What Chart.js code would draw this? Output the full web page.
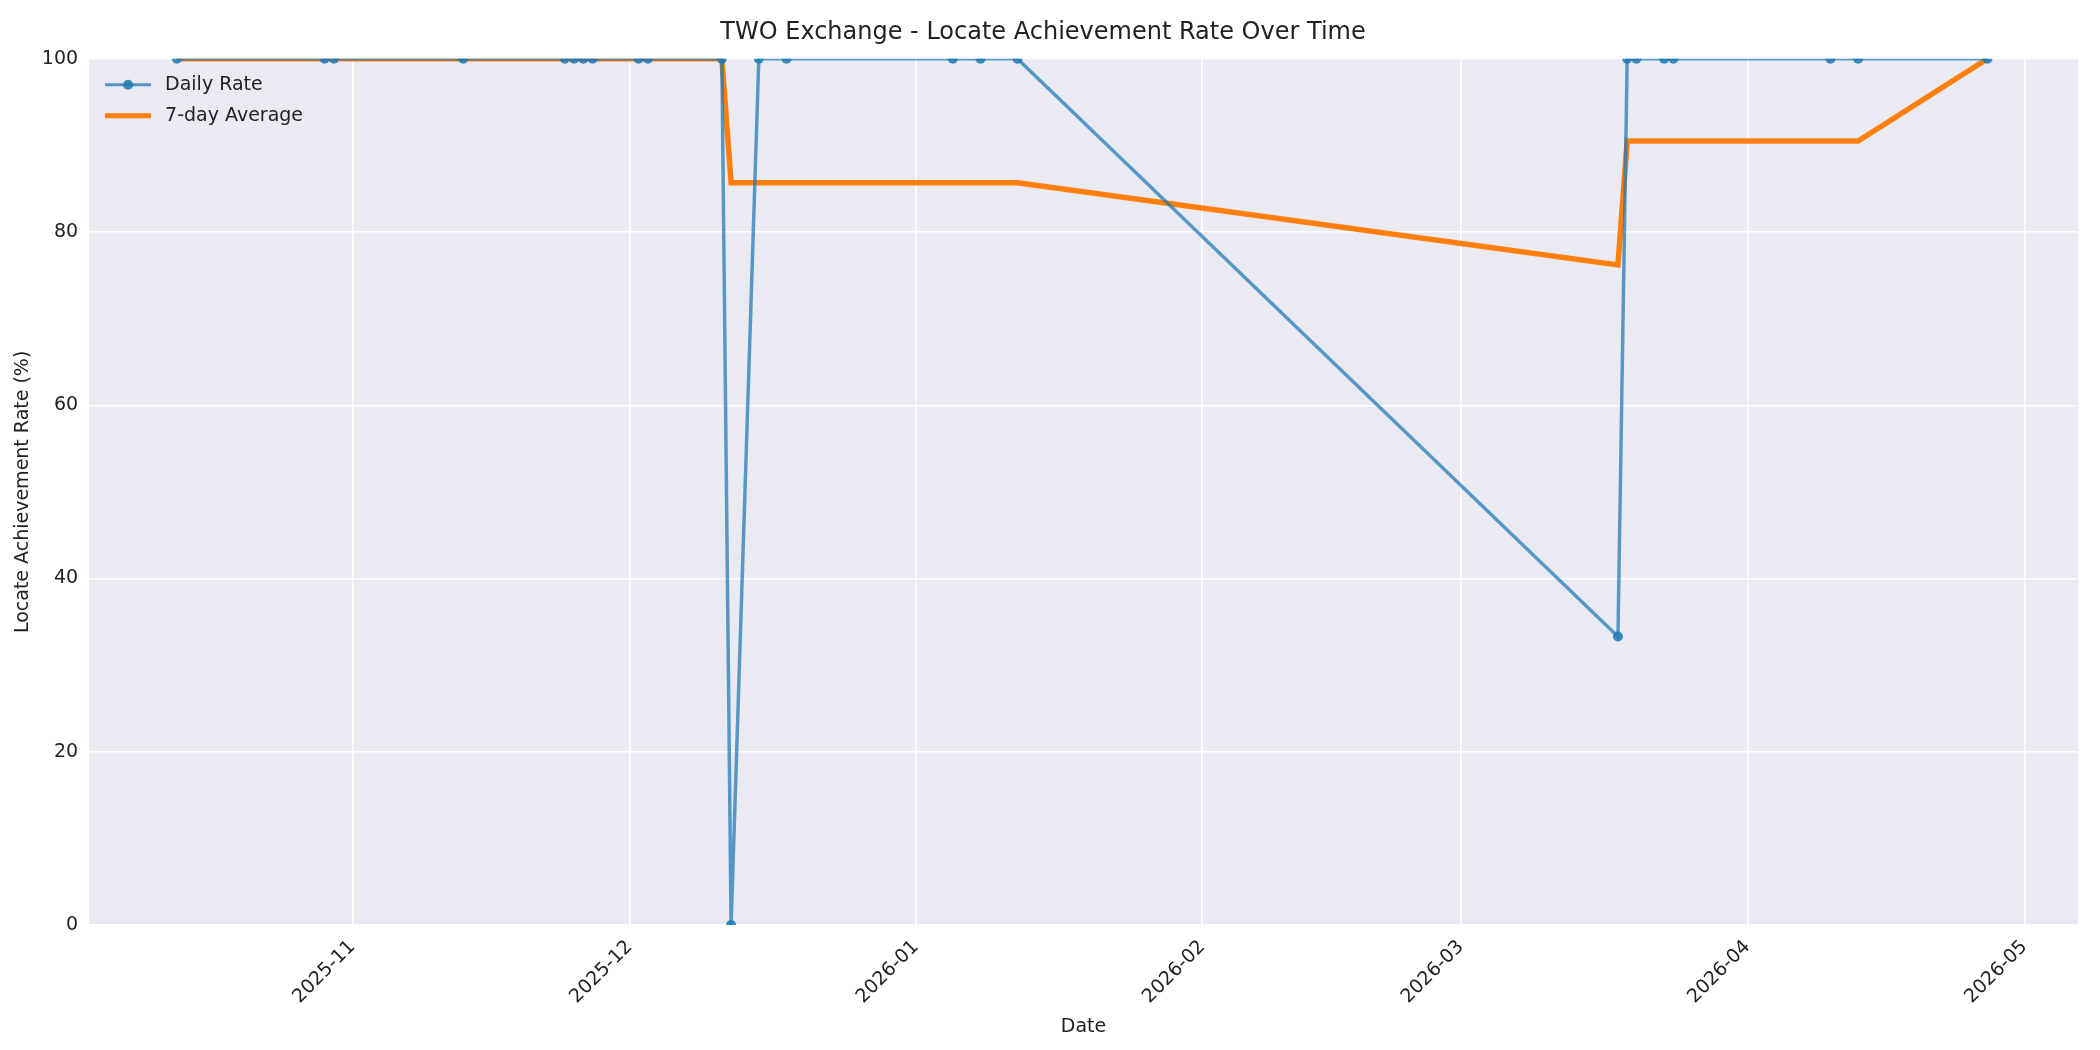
<!DOCTYPE html>
<html><head><meta charset="utf-8">
<script src="https://cdn.jsdelivr.net/npm/chart.js@4"></script>
<style>html,body{margin:0;background:#fff}#w{width:2100px;height:1050px}</style>
</head><body><div id="w"><canvas id="c"></canvas></div>
<script>
const dates=["2025-10-13","2025-10-29","2025-10-30","2025-11-13","2025-11-24","2025-11-25","2025-11-26","2025-11-27","2025-12-02","2025-12-03","2025-12-11","2025-12-12","2025-12-15","2025-12-18","2026-01-05","2026-01-08","2026-01-12","2026-03-18","2026-03-19","2026-03-20","2026-03-23","2026-03-24","2026-04-10","2026-04-13","2026-04-27"];
const dailyRate=[100,100,100,100,100,100,100,100,100,100,100,0,100,100,100,100,100,33.3,100,100,100,100,100,100,100];
const avg7=[100,100,100,100,100,100,100,100,100,100,100,85.7,85.7,85.7,85.7,85.7,85.7,76.2,90.5,90.5,90.5,90.5,90.5,90.5,100];
const monthTicks=["2025-11-01","2025-12-01","2026-01-01","2026-02-01","2026-03-01","2026-04-01","2026-05-01"];
const ts=d=>Date.parse(d+"T00:00:00Z");
const DAY=86400000;
const F="'DejaVu Sans', sans-serif";
Chart.defaults.font.family=F;Chart.defaults.color="#222";
const bg={id:'bg',beforeDraw(c){const a=c.chartArea,x=c.ctx;x.save();x.fillStyle='#EAEAF2';x.fillRect(a.left,a.top,a.right-a.left,a.bottom-a.top);x.restore();},
afterDraw(c){const a=c.chartArea,x=c.ctx;x.save();x.font="19px "+F;x.fillStyle='#222';x.textBaseline='middle';
let lx=a.left+16,ly=a.top+26;
x.strokeStyle='rgba(31,119,180,0.75)';x.lineWidth=3;x.beginPath();x.moveTo(lx,ly);x.lineTo(lx+46,ly);x.stroke();
x.fillStyle='rgba(31,119,180,0.85)';x.beginPath();x.arc(lx+23,ly,5,0,7);x.fill();
x.fillStyle='#222';x.fillText('Daily Rate',lx+60,ly);
ly+=31;x.strokeStyle='#ff7f0e';x.lineWidth=5;x.beginPath();x.moveTo(lx,ly);x.lineTo(lx+46,ly);x.stroke();
x.fillText('7-day Average',lx+60,ly);x.restore();}};
new Chart(document.getElementById('c'),{type:'line',
data:{datasets:[
{label:'Daily Rate',data:dates.map((d,i)=>({x:ts(d),y:dailyRate[i]})),borderColor:'rgba(31,119,180,0.72)',backgroundColor:'rgba(31,119,180,0.85)',borderWidth:3.5,pointRadius:5,pointBorderWidth:0,tension:0},
{label:'7-day Average',data:dates.map((d,i)=>({x:ts(d),y:avg7[i]})),borderColor:'#ff7f0e',borderWidth:5.5,pointRadius:0,tension:0}
]},
options:{responsive:true,maintainAspectRatio:false,animation:false,
layout:{padding:{left:8,right:22,top:6,bottom:8}},
plugins:{legend:{display:false},tooltip:{enabled:false},
title:{display:true,text:'TWO Exchange - Locate Achievement Rate Over Time',font:{size:24,weight:'normal'},color:'#222',padding:{top:12,bottom:12}}},
scales:{
x:{type:'linear',min:ts("2025-10-03")+DAY*0.5,max:ts("2026-05-06")+DAY*0.8,
afterBuildTicks(s){s.ticks=monthTicks.map(m=>({value:ts(m)}));},
ticks:{maxRotation:45,minRotation:45,font:{size:19},color:'#222',callback:v=>new Date(v).toISOString().slice(0,7)},
grid:{color:'#ffffff',lineWidth:1.5,drawTicks:true,tickColor:'#fff'},border:{display:false},
title:{display:true,text:'Date',font:{size:19},color:'#222'}},
y:{min:0,max:100,ticks:{stepSize:20,font:{size:19},color:'#222'},
grid:{color:'#ffffff',lineWidth:1.5,tickColor:'#fff'},border:{display:false},
title:{display:true,text:'Locate Achievement Rate (%)',font:{size:19},color:'#222'}}
}},plugins:[bg]});
</script></body></html>
